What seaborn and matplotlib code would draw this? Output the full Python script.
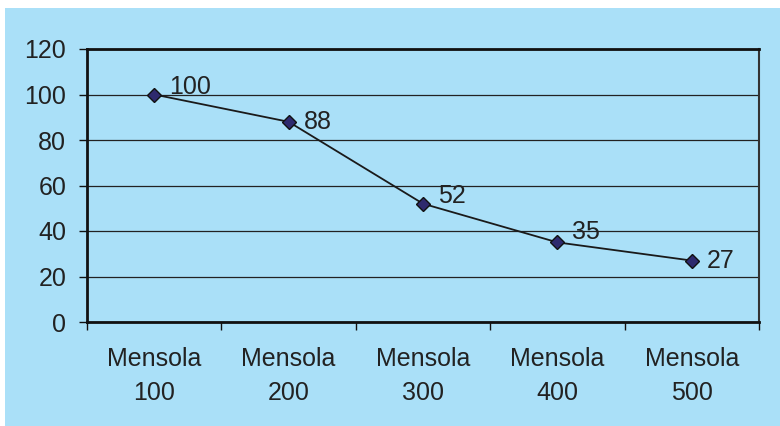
import pandas as pd
import matplotlib.pyplot as plt
import seaborn as sns
import numpy as np
from matplotlib.ticker import FixedLocator

categories = ["Mensola\n100", "Mensola\n200", "Mensola\n300", "Mensola\n400", "Mensola\n500"]
values = [100, 88, 52, 35, 27]
# label nudges (pixels) to mimic the original placement
label_dy = [8, 0, 8, 10, 0]

df = pd.DataFrame({"cat": categories, "val": values})

bg = "#aae0f8"
sns.set_style("white")
plt.rcParams['font.family'] = ['Liberation Sans', 'DejaVu Sans']

fig = plt.figure(figsize=(7.8, 4.26), dpi=100)
fig.patch.set_facecolor("white")
# light blue panel with a thin white margin at top/left
fig.patches.append(plt.Rectangle((5 / 780, 0), 1, 1 - 8 / 426, transform=fig.transFigure,
                                 facecolor=bg, edgecolor="none", zorder=-1))
ax = fig.add_axes([87 / 780, 1 - 322 / 426, (759 - 87) / 780, (322 - 49) / 426])
ax.set_facecolor(bg)

sns.lineplot(data=df, x="cat", y="val", ax=ax, color="#1a1a1a", linewidth=1.3,
             marker="D", markersize=7, markerfacecolor="#2e2a6e",
             markeredgecolor="#111111", markeredgewidth=1.0, sort=False)

for i, v in enumerate(values):
    ax.annotate(str(v), (i, v), xytext=(15, label_dy[i]), textcoords="offset pixels",
                fontsize=18, color="#222222", va="center", ha="left")

ax.set_xlim(-0.5, 4.5)
ax.set_ylim(0, 120)
ax.set_yticks(np.arange(0, 121, 20))
ax.yaxis.grid(True, color="#222222", linewidth=0.9)
ax.set_axisbelow(True)
ax.set_xticks(range(len(categories)))
ax.set_xticklabels(categories, linespacing=1.55)
ax.xaxis.set_minor_locator(FixedLocator(np.arange(-0.5, 4.6, 1)))
ax.tick_params(axis="x", which="major", bottom=True, length=0, pad=18, labelsize=18,
               colors="#222222")
ax.tick_params(axis="x", which="minor", bottom=True, length=6, width=1, color="#111111",
               direction="out")
ax.tick_params(axis="y", left=True, length=6, width=1, color="#111111", direction="out",
               labelsize=18, labelcolor="#222222", pad=9)
ax.set_xlabel("")
ax.set_ylabel("")
for side in ["left", "bottom", "top"]:
    ax.spines[side].set_color("#111111")
    ax.spines[side].set_linewidth(2)
ax.spines["right"].set_color("#333333")
ax.spines["right"].set_linewidth(1.5)

fig.savefig("out.png", dpi=100)
